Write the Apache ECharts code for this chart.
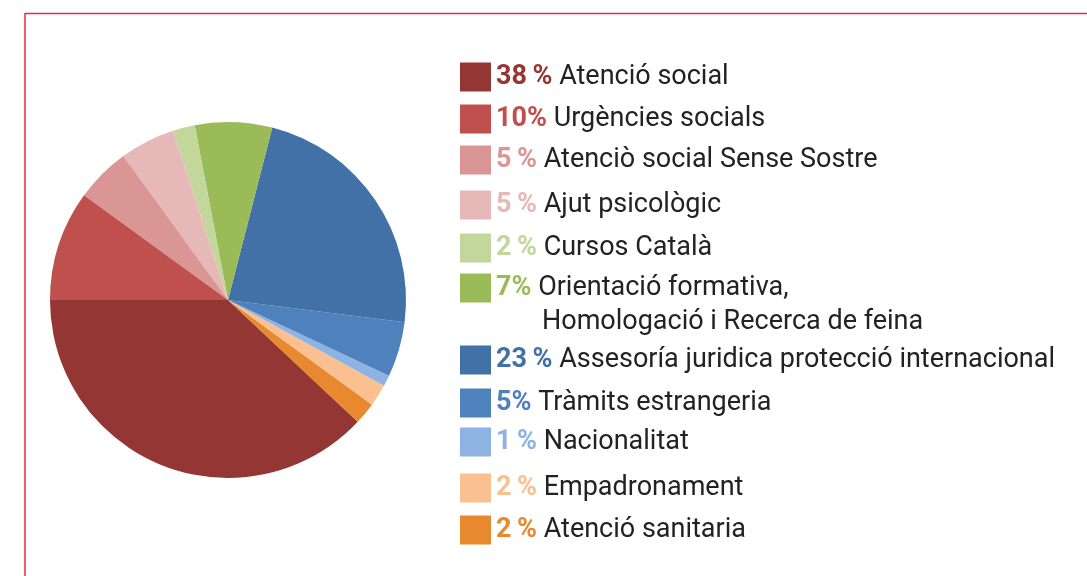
<!DOCTYPE html>
<html>
<head>
<meta charset="utf-8">
<script src="https://cdn.jsdelivr.net/npm/echarts@6/dist/echarts.min.js"></script>
<style>
  html, body { margin: 0; padding: 0; background: #fff; }
  #chart { width: 1087px; height: 576px; }
</style>
</head>
<body>
<div id="chart"></div>
<script>
(function () {
  'use strict';

  // categories, in the order the slices go round (counter-clockwise from 9 o'clock)
  var names = [
    'Atenció social',
    'Atenció sanitaria',
    'Empadronament',
    'Nacionalitat',
    'Tràmits estrangeria',
    'Assesoría juridica protecció internacional',
    'Orientació formativa,\nHomologació i Recerca de feina',
    'Cursos Català',
    'Ajut psicològic',
    'Atenciò social Sense Sostre',
    'Urgències socials'
  ];
  var values = [38, 2, 2, 1, 5, 23, 7, 2, 5, 5, 10];
  var pctLabels = ['38\u2009%', '2\u2009%', '2\u2009%', '1\u2009%', '5%', '23\u2009%', '7%', '2\u2009%', '5\u2009%', '5\u2009%', '10%'];
  var colors = ['#943634', '#e8892f', '#fac090', '#8db3e2', '#4f81bd', '#4271a7',
                '#9bbb59', '#c3d69b', '#e6b9b8', '#d99694', '#c0504d'];

  // legend order (top to bottom) as indexes into the arrays above
  var legendOrder = [0, 10, 9, 8, 7, 6, 5, 4, 3, 2, 1];
  var legendCenters = [75, 117, 158, 203, 246, 286, 358, 401, 440, 486, 528];

  var chart = echarts.init(document.getElementById('chart'));

  var legends = legendOrder.map(function (idx, k) {
    var multi = names[idx].indexOf('\n') >= 0;
    var rich = {
      p: { fontFamily: 'Roboto', fontSize: 27, fontWeight: 'bold', color: colors[idx], lineHeight: 34 },
      t: { fontFamily: 'Roboto', fontSize: 27, color: '#222', lineHeight: 34 },
      s: { width: 46, lineHeight: 34 }
    };
    return {
      show: true,
      orient: 'vertical',
      left: 460,
      top: legendCenters[k] - 12.5,
      itemWidth: 31,
      itemHeight: 29,
      itemGap: 0,
      padding: 0,
      selectedMode: false,
      icon: 'rect',
      data: [names[idx]],
      textStyle: { padding: multi ? [34, 0, 0, 0] : 0, rich: rich },
      formatter: function (name) {
        var parts = name.split('\n');
        var s = '{p|' + pctLabels[idx] + '}{t| ' + parts[0] + '}';
        if (parts[1]) s += '\n{s| }{t|' + parts[1] + '}';
        return s;
      }
    };
  });

  var option = {
    animation: false,
    backgroundColor: '#fff',
    color: colors,
    legend: legends,
    graphic: [
      { type: 'line', shape: { x1: 25, y1: 13.5, x2: 1087, y2: 13.5 }, style: { stroke: '#e3303f', lineWidth: 1.5 } },
      { type: 'line', shape: { x1: 25, y1: 13, x2: 25, y2: 576 }, style: { stroke: '#e3303f', lineWidth: 1.5 } }
    ],
    series: [{
      type: 'pie',
      center: [228, 300],
      radius: 178,
      startAngle: 180,
      clockwise: false,
      label: { show: false },
      labelLine: { show: false },
      emphasis: { disabled: true },
      itemStyle: { borderWidth: 0 },
      data: names.map(function (n, i) {
        return { name: n, value: values[i], itemStyle: { color: colors[i] } };
      })
    }]
  };

  chart.setOption(option);
  window.addEventListener('resize', chart.resize);
})();
</script>
</body>
</html>
